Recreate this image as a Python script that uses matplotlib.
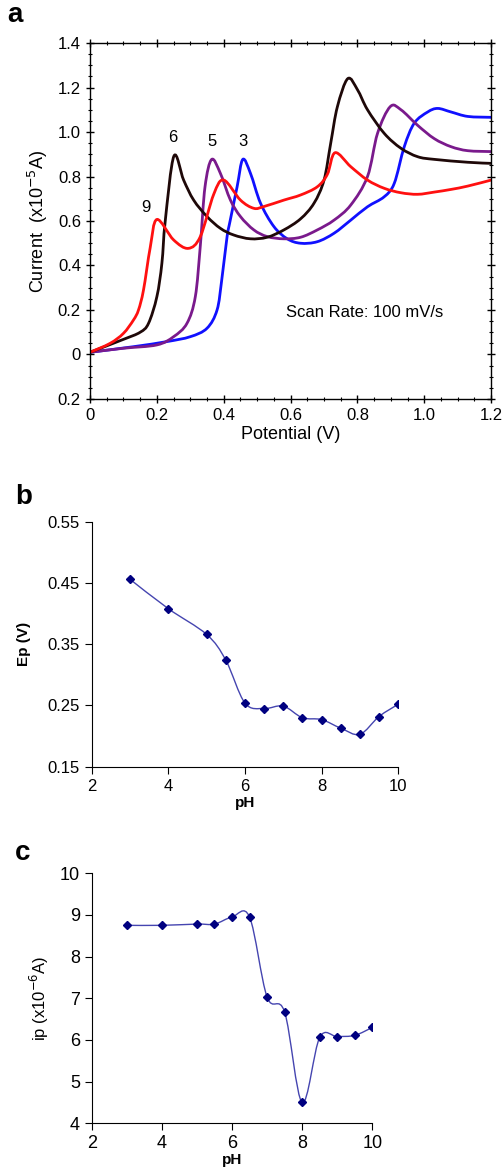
import numpy as np
import matplotlib
matplotlib.use("Agg")
import matplotlib.pyplot as plt
from matplotlib.path import Path
from matplotlib.patches import PathPatch
from matplotlib.ticker import MultipleLocator

plt.rcParams['font.family'] = ['Liberation Sans', 'DejaVu Sans']

# ---- panel a: CV curves (potential V, current x1e-5 A) ----
e_ph9 = [0.0, 0.06, 0.10, 0.13, 0.145, 0.16, 0.18, 0.20, 0.25, 0.294, 0.33, 0.37, 0.40, 0.45, 0.49, 0.52,
         0.58, 0.63, 0.68, 0.71, 0.733, 0.78, 0.83, 0.88, 0.93, 0.98, 1.03, 1.08, 1.13, 1.2]
i_ph9 = [0.01, 0.05, 0.095, 0.155, 0.2, 0.29, 0.48, 0.607, 0.515, 0.477, 0.53, 0.72, 0.784, 0.694, 0.657, 0.665,
         0.694, 0.717, 0.754, 0.81, 0.907, 0.844, 0.784, 0.747, 0.727, 0.72, 0.73, 0.742, 0.757, 0.784]

e_ph6 = [0.0, 0.1, 0.15, 0.175, 0.2, 0.215, 0.225, 0.251, 0.28, 0.31, 0.35, 0.39, 0.43, 0.48, 0.53,
         0.58, 0.63, 0.67, 0.70, 0.72, 0.74, 0.771, 0.80, 0.83, 0.88, 0.93, 0.98, 1.03, 1.13, 1.2]
i_ph6 = [0.01, 0.068, 0.10, 0.14, 0.26, 0.41, 0.60, 0.892, 0.784, 0.694, 0.62, 0.567, 0.537, 0.52, 0.527,
         0.56, 0.61, 0.68, 0.784, 0.95, 1.114, 1.24, 1.19, 1.10, 0.994, 0.927, 0.889, 0.877, 0.864, 0.859]

e_ph5 = [0.0, 0.1, 0.2, 0.25, 0.29, 0.315, 0.33, 0.344, 0.364, 0.39, 0.42, 0.45, 0.49, 0.53, 0.58,
         0.63, 0.68, 0.73, 0.78, 0.83, 0.86, 0.898, 0.93, 0.98, 1.03, 1.08, 1.13, 1.2]
i_ph5 = [0.01, 0.028, 0.043, 0.08, 0.14, 0.26, 0.49, 0.754, 0.877, 0.814, 0.694, 0.62, 0.56, 0.53, 0.52,
         0.527, 0.56, 0.604, 0.672, 0.80, 0.994, 1.114, 1.10, 1.03, 0.97, 0.934, 0.916, 0.912]

e_ph3 = [0.0, 0.13, 0.23, 0.30, 0.35, 0.38, 0.394, 0.41, 0.419, 0.44, 0.457, 0.48, 0.51, 0.55, 0.59,
         0.63, 0.68, 0.73, 0.78, 0.83, 0.88, 0.91, 0.94, 0.97, 1.01, 1.04, 1.08, 1.13, 1.2]
i_ph3 = [0.01, 0.035, 0.058, 0.08, 0.118, 0.2, 0.335, 0.53, 0.60, 0.754, 0.877, 0.814, 0.68, 0.575, 0.52,
         0.50, 0.507, 0.545, 0.604, 0.664, 0.709, 0.769, 0.934, 1.04, 1.09, 1.106, 1.09, 1.07, 1.066]

curve_labels = ['9', '6', '5', '3']
label_pos = [(0.168, 0.66), (0.246, 0.975), (0.365, 0.957), (0.458, 0.957)]

# ---- panel b / c: peak potential and peak current vs pH ----
ph_b = [3, 4, 5, 5.5, 6, 6.5, 7, 7.5, 8, 8.5, 9, 9.5, 10]
ep = [0.456, 0.408, 0.366, 0.324, 0.254, 0.245, 0.249, 0.23, 0.227, 0.213, 0.203, 0.232, 0.252]

ph_c = [3, 4, 5, 5.5, 6, 6.5, 7, 7.5, 8, 8.5, 9, 9.5, 10]
ip = [8.75, 8.75, 8.78, 8.78, 8.95, 8.95, 7.03, 6.67, 4.5, 6.06, 6.08, 6.11, 6.30]


def smooth_path(x, y):
    # Catmull-Rom style bezier through the points (like a spreadsheet smoothed line)
    pts = np.column_stack([x, y]).astype(float)
    n = len(pts)
    verts = [pts[0]]
    codes = [Path.MOVETO]
    for k in range(n - 1):
        p0 = pts[k - 1] if k > 0 else pts[k]
        p1 = pts[k]
        p2 = pts[k + 1]
        p3 = pts[k + 2] if k + 2 < n else pts[k + 1]
        c1 = p1 + (p2 - p0) / 6.0
        c2 = p2 - (p3 - p1) / 6.0
        verts += [c1, c2, p2]
        codes += [Path.CURVE4] * 3
    return Path(verts, codes)


def draw_smooth(ax, x, y, color, lw):
    patch = PathPatch(smooth_path(x, y), facecolor='none', edgecolor=color, lw=lw,
                      transform=ax.transData, capstyle='round', joinstyle='round')
    ax.add_patch(patch)


fig = plt.figure(figsize=(5.04, 11.69), dpi=100)

# panel a
ax = fig.add_axes([0.1786, 0.6587, 0.796, 0.3045])
colors = ['#ff1010', '#1e0808', '#7a1a8c', '#1010ff']
for xs, ys, c in [(e_ph3, i_ph3, colors[3]), (e_ph5, i_ph5, colors[2]),
                  (e_ph6, i_ph6, colors[1]), (e_ph9, i_ph9, colors[0])]:
    draw_smooth(ax, xs, ys, c, 2.0)
for lab, (px, py) in zip(curve_labels, label_pos):
    ax.text(px, py, lab, fontsize=12, ha='center', va='center')
ax.text(0.82, 0.19, 'Scan Rate: 100 mV/s', fontsize=12, ha='center', va='center')
ax.set_xlim(0, 1.2)
ax.set_ylim(-0.2, 1.4)
ax.set_xticks(np.arange(0, 1.21, 0.2))
ax.set_xticklabels(['0', '0.2', '0.4', '0.6', '0.8', '1.0', '1.2'])
ax.set_yticks(np.arange(-0.2, 1.41, 0.2))
ax.set_yticklabels(['0.2', '0', '0.2', '0.4', '0.6', '0.8', '1.0', '1.2', '1.4'])
ax.xaxis.set_minor_locator(MultipleLocator(0.05))
ax.yaxis.set_minor_locator(MultipleLocator(0.05))
ax.tick_params(which='major', direction='inout', length=6, width=1, labelsize=12,
               top=True, right=True)
ax.tick_params(which='minor', direction='inout', length=3, width=0.8, top=True, right=True)
ax.set_xlabel('Potential (V)', fontsize=13, labelpad=2)
ax.set_ylabel('Current  (x10$^{-5}$A)', fontsize=13, labelpad=6)
for s in ax.spines.values():
    s.set_linewidth(1.0)
fig.text(0.015, 0.987, 'a', fontsize=20, fontweight='bold', va='center')

# panel b
line_c = '#4545b0'
mark_c = '#000080'
bx = fig.add_axes([0.182, 0.3441, 0.608, 0.2096])
draw_smooth(bx, ph_b, ep, line_c, 1.0)
bx.plot(ph_b, ep, linestyle='none', marker='D', markersize=4.5, color=mark_c)
bx.set_xlim(2, 10)
bx.set_ylim(0.15, 0.55)
bx.set_xticks([2, 4, 6, 8, 10])
bx.set_yticks([0.15, 0.25, 0.35, 0.45, 0.55])
bx.set_yticklabels(['0.15', '0.25', '0.35', '0.45', '0.55'])
bx.spines['top'].set_visible(False)
bx.spines['right'].set_visible(False)
bx.tick_params(direction='out', length=5, labelsize=12)
bx.set_xlabel('pH', fontsize=11, fontweight='bold', labelpad=2)
bx.set_ylabel('Ep (V)', fontsize=11, fontweight='bold', labelpad=12)
fig.text(0.03, 0.575, 'b', fontsize=20, fontweight='bold', va='center')

# panel c
cx = fig.add_axes([0.182, 0.0391, 0.5567, 0.2139])
draw_smooth(cx, ph_c, ip, line_c, 1.0)
cx.plot(ph_c, ip, linestyle='none', marker='D', markersize=4.5, color=mark_c)
cx.set_xlim(2, 10)
cx.set_ylim(4, 10)
cx.set_xticks([2, 4, 6, 8, 10])
cx.set_yticks([4, 5, 6, 7, 8, 9, 10])
cx.spines['top'].set_visible(False)
cx.spines['right'].set_visible(False)
cx.tick_params(direction='out', length=5, labelsize=13)
cx.set_xlabel('pH', fontsize=11, fontweight='bold', labelpad=1)
cx.set_ylabel('ip (x10$^{-6}$A)', fontsize=12, labelpad=6)
fig.text(0.03, 0.27, 'c', fontsize=20, fontweight='bold', va='center')

fig.savefig('out.png', dpi=100)
